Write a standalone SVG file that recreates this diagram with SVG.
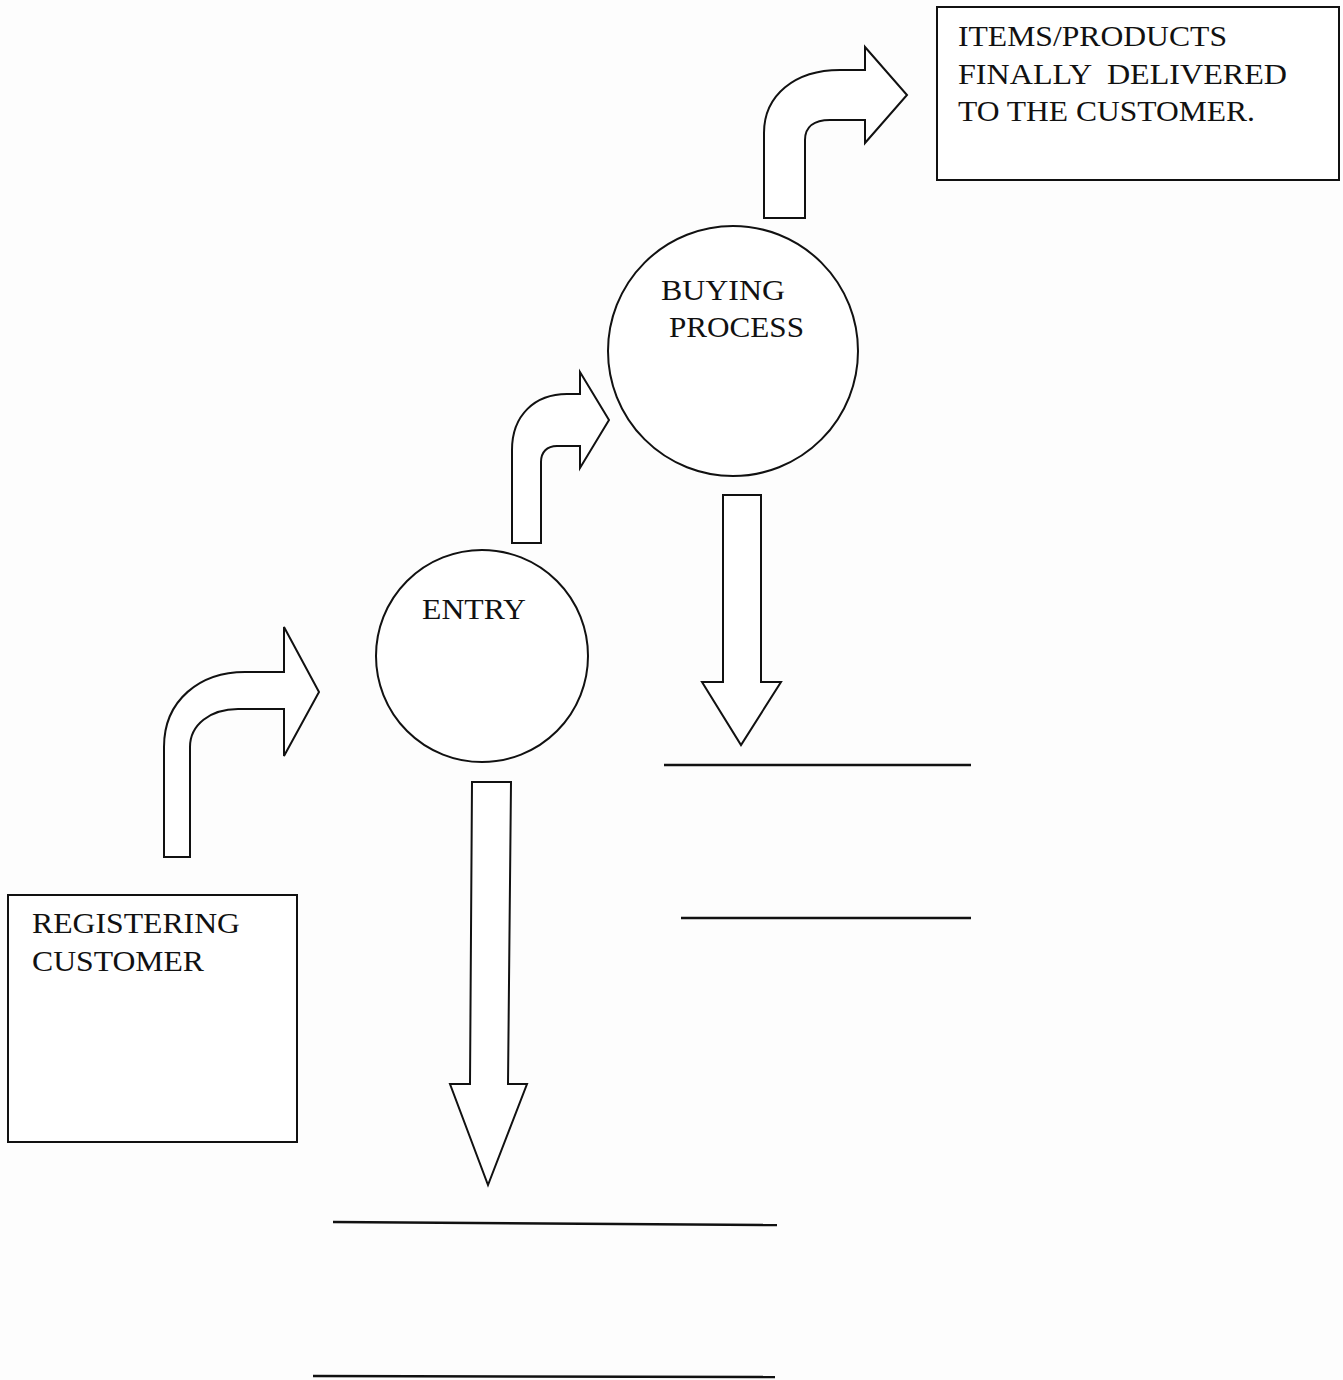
<svg xmlns="http://www.w3.org/2000/svg" width="1343" height="1380" viewBox="0 0 1343 1380">
<style>
.shape{fill:#ffffff;stroke:#111111;stroke-width:2;stroke-linejoin:miter}
.arrow{fill:#ffffff;stroke:#111111;stroke-width:2;stroke-linejoin:miter}
.rule{stroke:#111111;stroke-width:2.5}
.lbl{font-family:"Liberation Serif","Times New Roman",serif;font-size:30px;fill:#111111}
</style>
<rect width="1343" height="1380" fill="#fdfdfd"/>
<g id="delivered">
<rect class="shape" x="937" y="7" width="402" height="173"/>
<text class="lbl" x="958" y="46" textLength="269" lengthAdjust="spacingAndGlyphs">ITEMS/PRODUCTS</text>
<text class="lbl" x="958" y="84" textLength="329" lengthAdjust="spacingAndGlyphs" xml:space="preserve">FINALLY  DELIVERED</text>
<text class="lbl" x="958" y="121" textLength="297" lengthAdjust="spacingAndGlyphs">TO THE CUSTOMER.</text>
</g>
<g id="buying">
<circle class="shape" cx="733" cy="351" r="125"/>
<text class="lbl" x="661" y="300" textLength="124" lengthAdjust="spacingAndGlyphs">BUYING</text>
<text class="lbl" x="669" y="337" textLength="135" lengthAdjust="spacingAndGlyphs">PROCESS</text>
</g>
<g id="entry">
<circle class="shape" cx="482" cy="656" r="106"/>
<text class="lbl" x="422" y="619" textLength="104" lengthAdjust="spacingAndGlyphs">ENTRY</text>
</g>
<g id="registering">
<rect class="shape" x="8" y="895" width="289" height="247"/>
<text class="lbl" x="32" y="933" textLength="208" lengthAdjust="spacingAndGlyphs">REGISTERING</text>
<text class="lbl" x="32" y="971" textLength="172" lengthAdjust="spacingAndGlyphs">CUSTOMER</text>
</g>
<g id="connectors">
<path class="arrow" d="M164,857 L164,747 C164,700 200,672 245,672 L284,672 L284,627 L319,692 L284,756 L284,709 L238,709 C210,709 190,725 190,747 L190,857 Z"/>
<path class="arrow" d="M512,543 L512,450 C512,415 535,394 567,394 L580,394 L580,372 L609,420 L580,468 L580,446 L557,446 C547,446 541,452 541,462 L541,543 Z"/>
<path class="arrow" d="M764,218 L764,133 C764,95 795,70 840,70 L865,70 L865,47 L907,95 L865,143 L865,120 L830,120 C814,120 805,127 805,140 L805,218 Z"/>
<path class="arrow" d="M723,495 L761,495 L761,682 L781,682 L741,745 L702,682 L723,682 Z"/>
<path class="arrow" d="M472,782 L511,782 L508,1084 L527,1084 L488,1185 L450,1084 L470,1084 Z"/>
<line class="rule" x1="664" y1="765" x2="971" y2="765"/>
<line class="rule" x1="681" y1="918" x2="971" y2="918"/>
<line class="rule" x1="333" y1="1222" x2="777" y2="1225"/>
<line class="rule" x1="313" y1="1376" x2="775" y2="1377"/>
</g>
</svg>
